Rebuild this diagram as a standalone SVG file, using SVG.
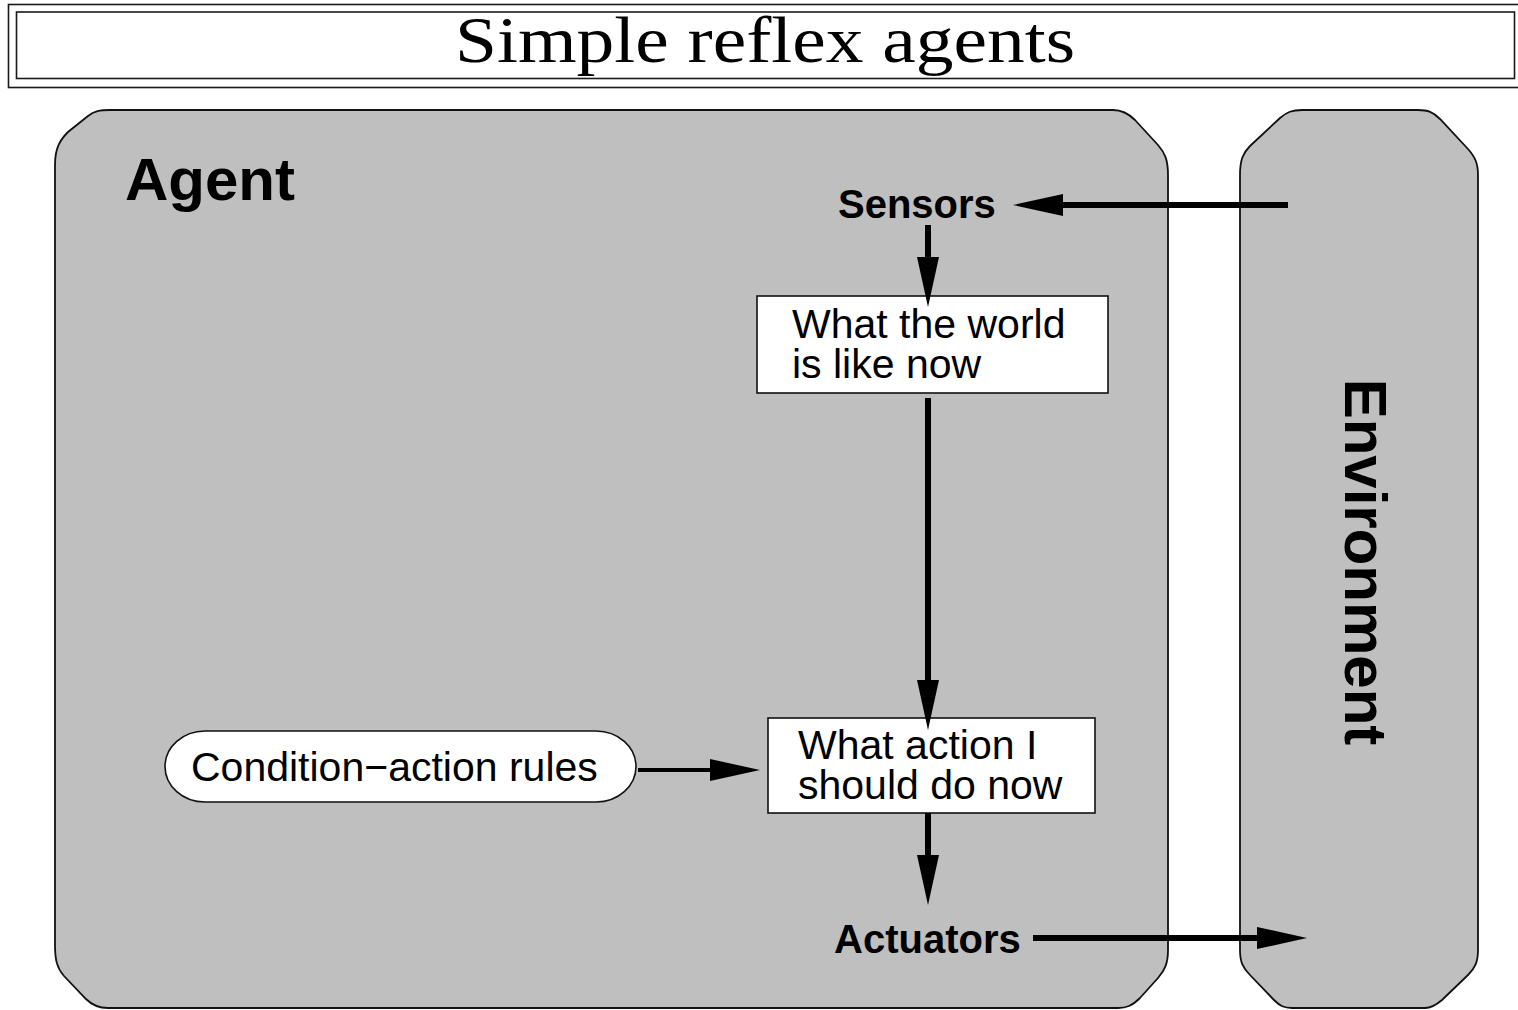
<svg xmlns="http://www.w3.org/2000/svg" width="1518" height="1010" viewBox="0 0 1518 1010">
  <style>
    .frame { fill: none; stroke: #1a1a1a; stroke-width: 1.6; }
    .panel { fill: #bfbfbf; stroke: #111; stroke-width: 1.8; }
    .box { fill: #fff; stroke: #111; stroke-width: 1.6; }
    .label { font-family: "Liberation Sans", Arial, sans-serif; font-size: 41px; fill: #000; }
    .bold { font-family: "Liberation Sans", Arial, sans-serif; font-weight: bold; fill: #000; }
    .title { font-family: "Liberation Serif", "Times New Roman", serif; font-size: 66px; fill: #000; }
    .wire { stroke: #000; stroke-width: 6; fill: none; marker-end: url(#head); }
    .wire.thin { stroke-width: 4; }
  </style>
  <defs>
    <marker id="head" markerUnits="userSpaceOnUse" markerWidth="50" markerHeight="22" refX="25" refY="11" orient="auto">
      <path d="M0,0 L50,11 L0,22 Z" fill="#000"/>
    </marker>
  </defs>

  <rect width="1518" height="1010" fill="#fff"/>

  <!-- title banner with double border -->
  <g id="title">
    <rect class="frame" x="8.5" y="4.5" width="1530" height="83"/>
    <rect class="frame" x="16.5" y="12" width="1498" height="66.5"/>
    <text class="title" x="455" y="62" textLength="620" lengthAdjust="spacingAndGlyphs">Simple reflex agents</text>
  </g>

  <!-- agent panel -->
  <g id="agent">
    <path class="panel" d="M55,165 C55,148 60,140 68,132 L88,116 C94,111 100,110 110,110 H1113 C1122,110 1128,113 1135,120 L1158,145 C1165,153 1168,160 1168,175 V950 C1168,963 1165,970 1158,978 L1140,998 C1132,1006 1126,1008 1118,1008 H108 C98,1008 92,1005 86,999 L64,976 C57,968 55,960 55,945 Z"/>
    <text class="bold" x="125" y="200" font-size="60">Agent</text>
  </g>

  <!-- environment panel -->
  <g id="environment">
    <path class="panel" d="M1240,175 C1240,160 1243,153 1250,146 L1280,118 C1287,112 1292,110 1302,110 H1418 C1428,110 1433,112 1440,119 L1468,149 C1475,157 1478,163 1478,175 V950 C1478,962 1475,968 1468,975 L1442,1000 C1435,1006 1431,1008 1425,1008 H1292 C1284,1008 1280,1006 1274,1000 L1250,975 C1243,968 1240,962 1240,950 Z"/>
    <text class="bold" font-size="60" text-anchor="middle" transform="translate(1345,562) rotate(90)">Environment</text>
  </g>

  <g id="sensors">
    <text class="bold" x="838" y="218" font-size="40">Sensors</text>
  </g>

  <g id="world-state">
    <rect class="box" x="757" y="296" width="351" height="97"/>
    <text class="label" x="792" y="338">What the world</text>
    <text class="label" x="792" y="378">is like now</text>
  </g>

  <g id="rules">
    <path class="box" d="M205,731 H596 A40,35.5 0 0 1 596,802 H205 A40,35.5 0 0 1 205,731 Z"/>
    <text class="label" x="191" y="781">Condition&#8722;action rules</text>
  </g>

  <g id="action">
    <rect class="box" x="768" y="718" width="327" height="95"/>
    <text class="label" x="798" y="759">What action I</text>
    <text class="label" x="798" y="799">should do now</text>
  </g>

  <g id="actuators">
    <text class="bold" x="834" y="953" font-size="40">Actuators</text>
  </g>

  <!-- connectors -->
  <g id="connectors">
    <line class="wire" x1="1288" y1="205" x2="1038" y2="205"/>
    <line class="wire" x1="928" y1="225" x2="928" y2="282"/>
    <line class="wire" x1="928" y1="398" x2="928" y2="705"/>
    <line class="wire thin" x1="638" y1="770" x2="735" y2="770"/>
    <line class="wire" x1="928" y1="813" x2="928" y2="880"/>
    <line class="wire" x1="1033" y1="938" x2="1282" y2="938"/>
  </g>
</svg>
